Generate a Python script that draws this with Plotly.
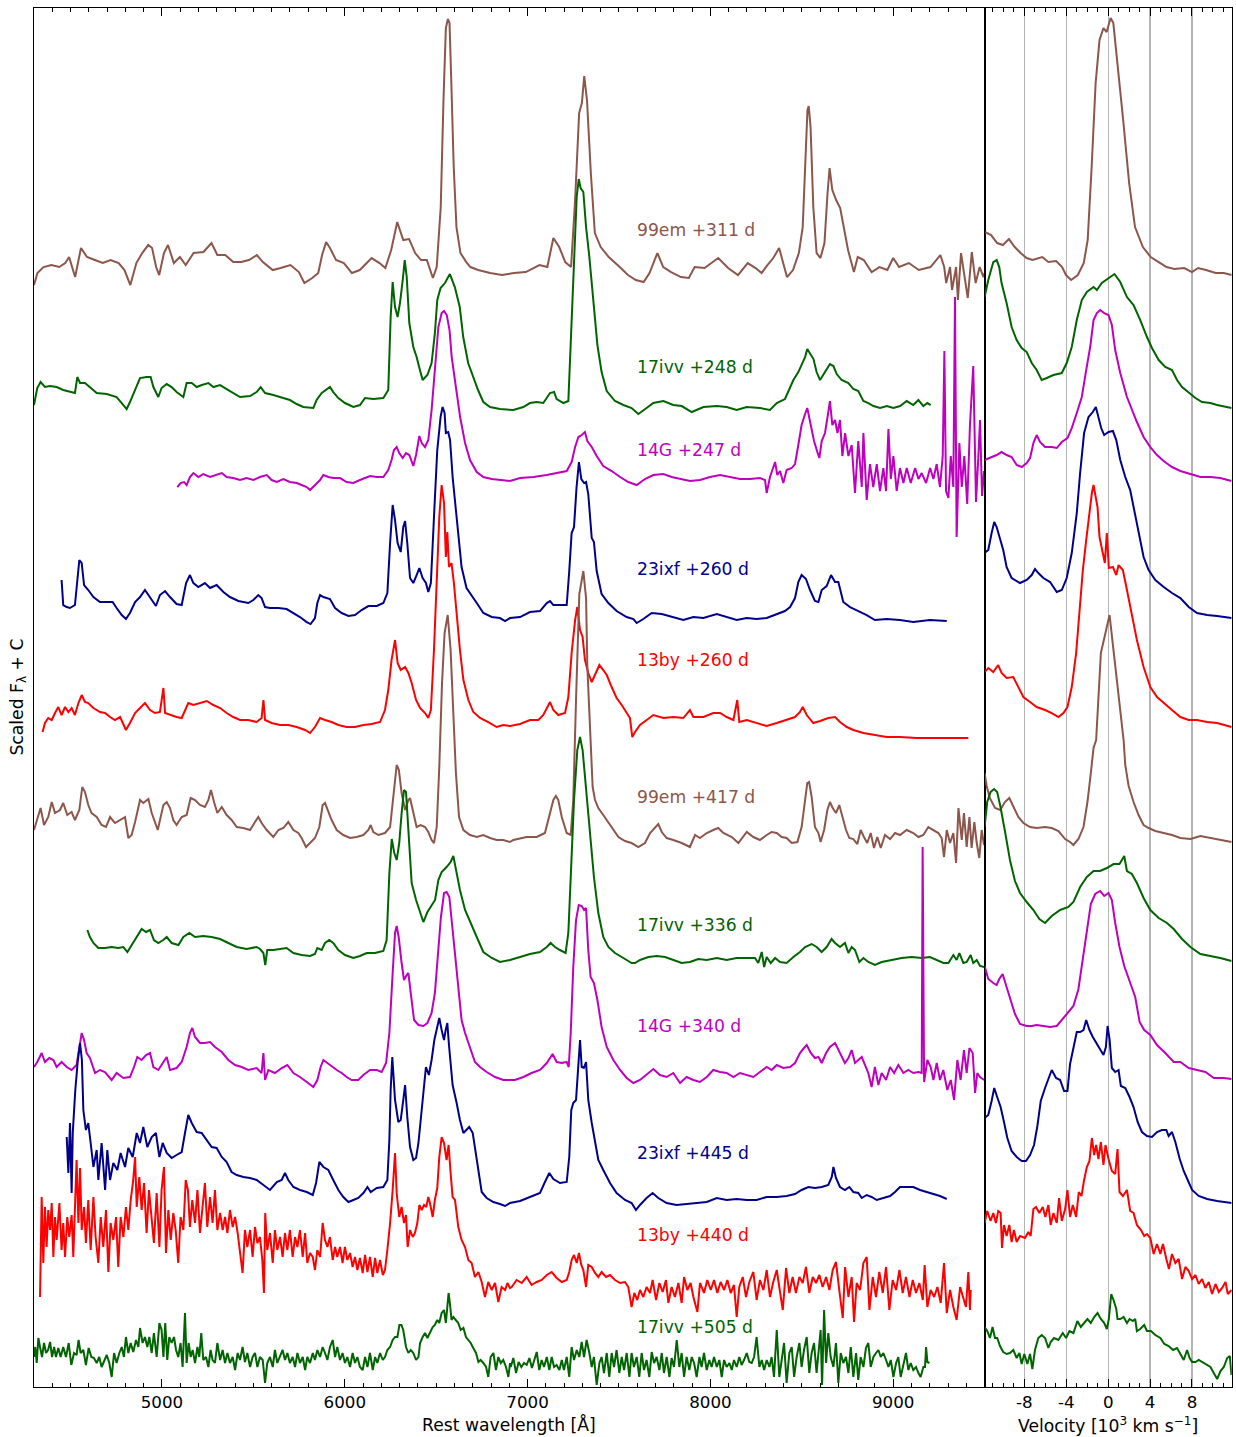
import plotly.graph_objects as go

# ---------------- data: left panel (rest wavelength [A], scaled flux F) ----------------
sp_99em_311 = [(4300,-15),(4319,-3),(4352,3),(4395,5),(4438,3),(4471,7),(4492,13),(4525,-7),(4557,22),(4590,13),
 (4633,10),(4676,7),(4719,10),(4763,7),(4795,0),(4827,-15),(4860,7),(4892,17),(4925,25),(4946,22),
 (4968,3),(4985,-5),(5011,17),(5033,25),(5065,7),(5098,13),(5130,5),(5173,17),(5227,18),(5271,27),
 (5303,15),(5346,15),(5390,8),(5433,8),(5476,10),(5519,15),(5552,8),(5606,0),(5649,2),(5703,5),
 (5749,-2),(5779,-13),(5822,-8),(5855,-3),(5876,15),(5898,28),(5919,22),(5952,10),(5995,7),(6039,-3),
 (6082,0),(6147,12),(6190,7),(6222,2),(6254,20),(6287,48),(6320,30),(6352,31),(6385,17),(6417,10),
 (6449,10),(6482,-8),(6503,3),(6525,63),(6540,170),(6553,242),(6564,251),(6573,247),(6583,187),(6596,103),
 (6611,43),(6633,17),(6665,8),(6687,3),(6730,0),(6795,-3),(6860,-5),(6925,-3),(6990,-2),(7065,5),
 (7108,3),(7141,32),(7173,23),(7206,8),(7238,3),(7260,70),(7282,157),(7297,167),(7310,194),(7325,170),
 (7346,97),(7368,37),(7400,23),(7444,13),(7504,3),(7549,-5),(7592,-10),(7635,-12),(7667,-3),(7710,17),
 (7742,3),(7785,-2),(7839,-7),(7882,-8),(7914,3),(7968,2),(8043,12),(8097,2),(8151,-5),(8204,7),
 (8247,2),(8280,-3),(8312,5),(8344,12),(8376,22),(8398,7),(8419,-7),(8452,0),(8484,17),(8505,43),
 (8520,103),(8531,160),(8538,164),(8548,143),(8563,63),(8581,17),(8602,12),(8624,27),(8641,77),(8652,102),
 (8667,80),(8688,70),(8710,62),(8731,40),(8753,20),(8785,-2),(8806,13),(8839,10),(8882,-2),(8925,3),
 (8968,0),(9000,12),(9032,3),(9086,7),(9140,0),(9204,3),(9258,15),(9279,3),(9290,-13),(9311,3),
 (9322,-20),(9344,3),(9354,-30),(9371,17),(9393,-13),(9408,-28),(9430,18),(9451,-13),(9473,3),(9494,-7),(9500,-3)]

sp_17ivv_248 = [(4300,0),(4318,17),(4336,23),(4360,18),(4388,19),(4424,18),(4460,15),(4497,13),(4524,12),(4537,28),
 (4552,22),(4579,22),(4606,18),(4643,12),(4698,11),(4752,8),(4780,2),(4807,-4),(4825,3),(4853,15),
 (4880,27),(4916,28),(4938,28),(4953,18),(4980,8),(4998,17),(5026,21),(5053,18),(5080,13),(5117,8),
 (5135,22),(5163,22),(5190,18),(5218,20),(5254,22),(5281,18),(5318,20),(5354,16),(5390,12),(5427,8),
 (5482,9),(5518,13),(5540,18),(5564,12),(5609,10),(5664,7),(5700,5),(5737,1),(5773,-2),(5828,-3),
 (5846,5),(5874,12),(5901,16),(5919,18),(5937,13),(5965,7),(6001,2),(6047,-2),(6083,0),(6111,7),
 (6156,6),(6211,7),(6238,15),(6251,88),(6262,123),(6275,98),(6289,88),(6302,102),(6317,125),(6328,145),
 (6339,128),(6353,82),(6375,58),(6393,48),(6411,35),(6426,25),(6452,30),(6475,42),(6493,72),(6506,105),
 (6524,117),(6548,122),(6575,131),(6602,118),(6629,98),(6648,68),(6675,42),(6702,28),(6729,15),(6758,3),
 (6795,-2),(6849,-4),(6904,-5),(6922,-5),(6977,-2),(7013,2),(7050,3),(7086,2),(7123,12),(7145,13),
 (7159,6),(7196,2),(7223,4),(7236,64),(7250,140),(7269,209),(7280,226),(7290,217),(7305,213),(7320,178),
 (7338,148),(7360,106),(7382,60),(7405,33),(7433,14),(7478,4),(7524,0),(7569,-3),(7606,-9),(7651,-3),
 (7688,2),(7743,4),(7797,0),(7843,-1),(7898,-7),(7962,-2),(8035,-1),(8089,-2),(8144,-5),(8199,-2),
 (8272,-3),(8326,-5),(8363,2),(8408,6),(8436,18),(8454,25),(8481,33),(8499,41),(8518,48),(8530,56),
 (8545,52),(8564,46),(8581,33),(8600,25),(8627,33),(8654,41),(8673,39),(8691,31),(8718,25),(8755,22),
 (8782,16),(8809,14),(8837,4),(8864,2),(8892,-1),(8928,-3),(8965,-1),(9001,-3),(9038,-1),(9074,4),
 (9110,0),(9138,5),(9165,-1),(9187,2),(9205,0)]

sp_14G_247 = [(5084,-9),(5102,-5),(5121,-4),(5135,-7),(5153,1),(5172,5),(5199,1),(5226,4),(5263,1),(5299,3),
 (5327,5),(5354,1),(5390,0),(5427,-2),(5463,0),(5500,-2),(5536,1),(5573,3),(5600,-2),(5628,-4),
 (5664,-1),(5700,-4),(5737,-5),(5764,-7),(5792,-9),(5810,-12),(5837,-7),(5865,-2),(5883,3),(5910,1),
 (5937,0),(5974,0),(6010,-4),(6047,-5),(6083,-2),(6111,0),(6138,2),(6175,1),(6211,1),(6238,8),
 (6256,18),(6269,28),(6284,31),(6298,25),(6317,20),(6335,25),(6353,23),(6375,12),(6390,23),(6408,42),
 (6421,35),(6439,31),(6457,38),(6475,68),(6493,111),(6512,151),(6530,165),(6543,167),(6558,163),(6573,148),
 (6585,121),(6604,95),(6631,61),(6658,35),(6685,18),(6722,6),(6758,1),(6804,-1),(6849,-2),(6904,-3),
 (6959,0),(7032,1),(7105,3),(7159,5),(7214,7),(7241,16),(7260,31),(7278,41),(7296,43),(7314,46),
 (7327,37),(7351,31),(7378,22),(7414,12),(7460,7),(7506,1),(7551,-4),(7597,-7),(7642,-1),(7688,3),
 (7743,4),(7788,1),(7843,-1),(7889,-3),(7943,-2),(7998,1),(8053,3),(8107,1),(8162,-1),(8217,-1),
 (8271,0),(8299,-2),(8308,-15),(8326,1),(8354,16),(8366,3),(8381,7),(8399,-5),(8417,8),(8445,10),
 (8463,14),(8481,33),(8499,53),(8518,64),(8530,70),(8549,53),(8567,37),(8585,26),(8596,20),(8609,37),
 (8627,45),(8640,60),(8654,77),(8667,53),(8682,58),(8695,45),(8709,58),(8722,22),(8737,45),(8755,22),
 (8773,33),(8791,-15),(8809,37),(8828,-9),(8837,45),(8855,-22),(8873,14),(8891,-9),(8910,14),(8928,-13),
 (8946,10),(8961,-13),(8974,49),(8987,-1),(9001,22),(9019,-13),(9037,10),(9056,-5),(9074,10),(9096,-5),
 (9120,10),(9138,-1),(9156,5),(9180,-5),(9202,10),(9220,-1),(9238,14),(9256,-9),(9271,22),(9280,127),
 (9289,-13),(9302,-20),(9315,22),(9329,-9),(9338,181),(9347,-59),(9362,35),(9375,-9),(9389,22),(9405,-26),
 (9420,53),(9438,112),(9453,-24),(9466,22),(9475,58),(9486,-18),(9497,7)]

sp_23ixf_260 = [(4451,25),(4460,0),(4479,-2),(4497,-3),(4524,0),(4537,28),(4548,45),(4561,42),(4574,20),(4597,15),
 (4625,8),(4661,3),(4698,3),(4730,3),(4752,-3),(4780,-10),(4803,-14),(4825,-8),(4853,3),(4880,8),
 (4907,15),(4935,8),(4967,-1),(4989,10),(5017,14),(5044,8),(5080,1),(5108,0),(5132,22),(5153,30),
 (5172,22),(5199,18),(5235,22),(5263,17),(5299,20),(5336,13),(5372,8),(5418,4),(5472,2),(5500,5),
 (5527,10),(5545,7),(5564,-2),(5591,-3),(5637,-3),(5682,-4),(5719,-8),(5755,-12),(5792,-17),(5813,-19),
 (5837,-13),(5850,2),(5865,10),(5883,8),(5919,6),(5947,-3),(5983,-8),(6020,-11),(6056,-10),(6092,-5),
 (6129,-1),(6175,-1),(6211,2),(6233,12),(6248,62),(6262,100),(6275,85),(6289,62),(6306,53),(6320,78),
 (6330,84),(6342,62),(6357,27),(6375,22),(6393,30),(6408,37),(6426,27),(6444,22),(6457,13),(6471,22),
 (6488,88),(6506,155),(6524,188),(6535,198),(6546,192),(6553,172),(6566,173),(6576,165),(6590,128),(6612,88),
 (6639,38),(6666,17),(6694,10),(6722,2),(6758,-8),(6804,-12),(6849,-13),(6877,-16),(6904,-13),(6959,-12),
 (7013,-7),(7068,-6),(7105,2),(7123,4),(7141,0),(7177,0),(7214,0),(7228,34),(7241,72),(7254,78),
 (7268,118),(7281,143),(7294,126),(7309,122),(7320,123),(7332,111),(7351,67),(7363,63),(7378,34),(7405,11),
 (7442,2),(7487,-6),(7542,-12),(7579,-14),(7597,-18),(7633,-14),(7679,-8),(7734,-9),(7797,-12),(7852,-15),
 (7907,-12),(7962,-13),(8035,-9),(8089,-12),(8144,-15),(8199,-13),(8253,-14),(8308,-13),(8363,-9),(8408,-6),
 (8436,-2),(8463,7),(8481,23),(8499,30),(8523,26),(8545,15),(8572,4),(8591,3),(8609,15),(8636,19),
 (8660,30),(8682,23),(8700,23),(8727,3),(8764,-2),(8809,-6),(8855,-10),(8900,-15),(8965,-14),(9037,-15),
 (9110,-17),(9201,-15),(9293,-16)]

sp_13by_260 = [(4347,-12),(4360,-3),(4378,2),(4397,0),(4415,7),(4433,13),(4451,5),(4470,13),(4488,8),(4506,12),
 (4524,5),(4543,17),(4561,25),(4579,18),(4597,17),(4625,12),(4661,8),(4689,7),(4716,3),(4743,0),
 (4771,3),(4803,-10),(4825,-3),(4853,7),(4880,12),(4907,17),(4935,10),(4962,7),(4989,8),(5008,32),
 (5017,7),(5044,5),(5080,3),(5108,2),(5126,10),(5144,17),(5172,15),(5208,17),(5245,19),(5281,15),
 (5318,12),(5354,7),(5390,3),(5427,0),(5472,0),(5518,-2),(5545,2),(5555,20),(5564,0),(5600,-3),
 (5646,-5),(5691,-5),(5737,-7),(5783,-10),(5810,-13),(5837,-7),(5865,2),(5892,0),(5928,-2),(5965,-5),
 (6010,-7),(6056,-7),(6102,-5),(6147,-4),(6193,-2),(6220,10),(6238,30),(6256,60),(6275,80),(6289,57),
 (6306,50),(6330,53),(6348,47),(6366,37),(6390,20),(6412,12),(6439,7),(6457,2),(6471,10),(6488,70),
 (6503,137),(6517,203),(6530,235),(6543,217),(6553,163),(6561,188),(6570,153),(6584,157),(6597,137),(6612,103),
 (6630,70),(6649,40),(6676,20),(6703,8),(6740,2),(6785,-2),(6831,-7),(6867,-5),(6904,-6),(6959,-4),
 (7013,0),(7059,0),(7086,5),(7123,18),(7141,10),(7168,5),(7205,7),(7223,23),(7241,67),(7260,100),
 (7272,113),(7287,90),(7301,83),(7314,60),(7332,47),(7351,38),(7369,45),(7393,55),(7414,50),(7433,45),
 (7460,33),(7487,22),(7515,15),(7542,7),(7560,2),(7573,-17),(7588,-12),(7615,-5),(7651,0),(7688,5),
 (7743,2),(7797,3),(7852,2),(7888,10),(7907,3),(7962,3),(8016,7),(8053,7),(8089,3),(8126,0),
 (8147,20),(8158,-2),(8199,0),(8253,-3),(8308,-6),(8363,-3),(8417,0),(8463,3),(8490,8),(8505,13),
 (8527,5),(8563,-3),(8600,-1),(8645,2),(8682,3),(8709,-2),(8746,-7),(8782,-10),(8837,-13),(8892,-15),
 (8964,-17),(9037,-17),(9128,-18),(9220,-18),(9311,-18),(9411,-18)]

sp_99em_417 = [(4300,5),(4318,15),(4336,27),(4355,10),(4378,18),(4397,33),(4415,22),(4442,25),(4460,32),(4482,20),
 (4506,23),(4524,15),(4548,25),(4564,48),(4579,43),(4597,30),(4615,22),(4643,18),(4670,10),(4694,8),
 (4716,18),(4743,12),(4771,15),(4798,18),(4816,-3),(4834,0),(4853,13),(4880,35),(4898,32),(4926,36),
 (4944,22),(4962,13),(4977,5),(4993,18),(5008,30),(5026,33),(5044,27),(5062,15),(5080,10),(5108,18),
 (5135,20),(5157,37),(5181,35),(5208,30),(5235,28),(5254,35),(5268,45),(5285,33),(5303,22),(5327,28),
 (5354,20),(5381,15),(5409,8),(5445,7),(5482,5),(5509,13),(5527,18),(5545,12),(5573,5),(5609,-2),
 (5637,5),(5664,7),(5691,13),(5719,5),(5746,2),(5764,-3),(5788,-12),(5810,-8),(5837,-3),(5861,8),
 (5879,30),(5892,32),(5906,25),(5928,15),(5956,5),(5992,0),(6029,-3),(6065,-2),(6102,0),(6129,5),
 (6142,10),(6156,3),(6184,0),(6220,2),(6248,8),(6269,42),(6284,70),(6296,65),(6311,42),(6330,25),
 (6348,35),(6357,37),(6375,22),(6393,8),(6415,10),(6439,8),(6457,3),(6475,-5),(6488,-8),(6503,8),
 (6517,68),(6532,152),(6546,202),(6563,220),(6579,185),(6594,128),(6608,62),(6625,18),(6649,5),(6685,0),
 (6722,-2),(6758,0),(6795,-3),(6831,-5),(6867,-5),(6904,-7),(6922,-5),(6995,-2),(7050,-2),(7095,2),
 (7123,22),(7141,35),(7155,39),(7168,35),(7187,18),(7214,2),(7236,0),(7250,35),(7265,135),(7283,241),
 (7305,264),(7320,237),(7327,168),(7341,102),(7356,48),(7369,35),(7387,27),(7414,20),(7442,13),(7469,5),
 (7497,-2),(7533,-6),(7569,-8),(7606,-12),(7642,-8),(7670,2),(7697,8),(7715,11),(7734,3),(7761,-3),
 (7797,-5),(7843,-8),(7888,-12),(7916,0),(7943,-3),(7980,2),(8016,5),(8043,7),(8071,2),(8117,-2),
 (8153,-8),(8199,3),(8235,-2),(8271,-5),(8308,0),(8335,3),(8363,2),(8390,-2),(8417,-3),(8445,-8),
 (8476,-7),(8499,8),(8518,35),(8530,52),(8540,53),(8554,38),(8572,8),(8591,2),(8603,-7),(8622,5),
 (8640,25),(8654,33),(8669,27),(8687,22),(8705,30),(8724,18),(8742,5),(8760,-3),(8782,-4),(8804,-9),
 (8822,5),(8840,-2),(8858,-8),(8877,2),(8895,-13),(8913,-2),(8932,-13),(8955,0),(8983,-4),(9010,2),
 (9037,0),(9074,5),(9110,2),(9138,-2),(9165,0),(9192,8),(9220,5),(9247,2),(9265,-3),(9278,-22),
 (9293,5),(9311,-8),(9329,2),(9344,-28),(9357,27),(9375,-5),(9387,22),(9402,-12),(9417,18),(9429,-13),
 (9444,13),(9457,-8),(9471,-23),(9484,5),(9497,-10)]

sp_17ivv_336 = [(4592,25),(4606,18),(4625,12),(4652,7),(4688,7),(4725,8),(4761,7),(4789,8),(4811,3),(4834,10),
 (4862,18),(4889,26),(4913,23),(4935,25),(4956,15),(4980,12),(5007,15),(5026,18),(5053,12),(5090,10),
 (5117,18),(5150,22),(5181,18),(5226,19),(5272,18),(5318,16),(5363,12),(5409,8),(5463,6),(5518,8),
 (5536,6),(5555,2),(5565,-10),(5576,5),(5609,5),(5646,6),(5682,7),(5719,2),(5764,0),(5810,-1),
 (5837,1),(5850,7),(5874,5),(5892,12),(5915,15),(5937,12),(5965,5),(6001,0),(6047,-3),(6083,-1),
 (6120,2),(6165,2),(6211,4),(6229,15),(6244,82),(6257,116),(6271,102),(6284,95),(6298,112),(6311,142),
 (6324,165),(6335,163),(6348,122),(6366,72),(6390,55),(6412,42),(6430,33),(6452,43),(6475,49),(6494,55),
 (6512,75),(6530,83),(6557,88),(6579,93),(6594,99),(6608,85),(6630,65),(6658,45),(6685,33),(6722,18),
 (6758,3),(6804,-3),(6849,-7),(6904,-5),(6959,-2),(7013,1),(7068,3),(7105,8),(7126,12),(7150,8),
 (7177,5),(7208,2),(7223,22),(7236,82),(7254,155),(7272,205),(7287,218),(7301,205),(7316,175),(7332,138),
 (7345,115),(7363,78),(7387,42),(7414,18),(7442,8),(7478,2),(7524,-3),(7569,-8),(7588,-8),(7615,-5),
 (7661,-2),(7706,-1),(7752,-2),(7797,-5),(7843,-8),(7888,-7),(7934,-4),(7980,-5),(8035,-3),(8089,-5),
 (8144,-3),(8199,-3),(8244,-3),(8262,-8),(8281,3),(8294,-12),(8308,-2),(8330,-8),(8354,-3),(8381,-7),
 (8417,-8),(8454,-2),(8490,3),(8518,8),(8554,11),(8581,8),(8609,3),(8636,8),(8663,16),(8682,12),
 (8709,8),(8736,12),(8755,2),(8773,8),(8791,5),(8815,-7),(8837,-3),(8864,-7),(8900,-10),(8937,-7),
 (8992,-5),(9047,-3),(9101,-2),(9156,-3),(9201,-2),(9238,-5),(9275,-8),(9302,-8),(9329,0),(9347,-5),
 (9362,2),(9384,-8),(9402,-7),(9424,0),(9438,-8),(9457,-5),(9475,-11),(9497,-12)]

sp_14G_340 = [(4300,3),(4318,8),(4342,17),(4360,8),(4384,12),(4406,10),(4424,3),(4451,8),(4479,3),(4506,0),
 (4533,5),(4552,30),(4561,37),(4574,30),(4588,17),(4606,12),(4634,-3),(4661,0),(4688,-2),(4725,-10),
 (4752,-3),(4789,-8),(4825,-7),(4847,3),(4865,13),(4889,10),(4913,15),(4935,17),(4953,3),(4980,0),
 (5008,8),(5026,13),(5044,0),(5080,2),(5108,8),(5135,23),(5153,37),(5166,42),(5181,33),(5208,27),
 (5235,27),(5263,28),(5290,23),(5327,18),(5363,10),(5400,5),(5436,3),(5472,0),(5518,2),(5545,-3),
 (5555,17),(5564,-10),(5582,0),(5618,-3),(5655,2),(5686,5),(5719,-3),(5755,-7),(5792,-12),(5828,-17),
 (5850,-10),(5868,3),(5883,10),(5905,7),(5928,3),(5956,0),(5983,-3),(6010,-7),(6038,-10),(6074,-10),
 (6102,-5),(6138,0),(6175,0),(6202,-2),(6226,7),(6244,37),(6262,97),(6275,137),(6284,144),(6295,133),
 (6311,107),(6324,90),(6339,95),(6348,97),(6361,77),(6379,50),(6403,45),(6430,44),(6452,47),(6475,57),
 (6493,77),(6512,120),(6526,153),(6543,177),(6557,178),(6572,173),(6585,150),(6603,117),(6621,80),(6639,50),
 (6658,37),(6685,23),(6712,8),(6740,3),(6776,-2),(6822,-7),(6867,-10),(6904,-10),(6931,-10),(6977,-7),
 (7022,-3),(7068,0),(7105,7),(7137,16),(7159,8),(7187,7),(7214,8),(7225,3),(7236,37),(7250,103),
 (7265,150),(7280,165),(7296,164),(7309,160),(7320,162),(7332,120),(7345,93),(7363,87),(7382,70),(7405,43),
 (7433,23),(7469,10),(7506,0),(7542,-8),(7579,-13),(7615,-10),(7651,-5),(7688,1),(7724,-5),(7761,-7),
 (7797,-3),(7834,-13),(7870,-7),(7907,-10),(7943,-12),(7980,-7),(8016,0),(8053,-2),(8089,-3),(8126,-7),
 (8162,-3),(8199,-5),(8235,-7),(8271,-2),(8308,3),(8335,0),(8363,5),(8399,2),(8436,3),(8463,7),
 (8490,17),(8512,22),(8527,25),(8549,17),(8572,12),(8591,13),(8609,7),(8633,17),(8654,23),(8682,27),
 (8700,20),(8718,13),(8736,7),(8755,12),(8773,20),(8791,7),(8809,10),(8828,13),(8846,5),(8864,-3),
 (8882,-17),(8900,3),(8919,-15),(8937,-3),(8961,-10),(8983,3),(9005,-3),(9028,5),(9056,-3),(9083,0),
 (9110,-3),(9138,-2),(9156,-3),(9161,223),(9169,-12),(9187,10),(9205,3),(9220,-10),(9238,7),(9256,-10),
 (9274,0),(9296,-20),(9315,-10),(9333,-30),(9351,10),(9369,-10),(9387,20),(9402,-3),(9417,22),(9435,17),
 (9448,-23),(9460,-3),(9475,-7),(9497,-10)]

sp_23ixf_445 = [(4479,58),(4488,22),(4497,72),(4506,2),(4512,62),(4519,88),(4526,105),(4540,135),(4552,152),(4562,135),
 (4570,85),(4584,65),(4597,72),(4610,52),(4625,28),(4643,45),(4652,15),(4670,52),(4689,5),(4701,45),
 (4716,15),(4734,32),(4756,25),(4774,42),(4798,28),(4816,47),(4840,38),(4862,62),(4880,52),(4898,68),
 (4920,48),(4944,58),(4967,62),(4986,38),(5004,52),(5026,42),(5053,37),(5080,40),(5108,43),(5126,62),
 (5144,80),(5163,72),(5190,63),(5217,62),(5245,55),(5272,48),(5299,47),(5327,38),(5354,33),(5381,23),
 (5409,20),(5445,18),(5482,17),(5518,15),(5555,10),(5591,5),(5628,13),(5655,15),(5673,22),(5691,15),
 (5719,8),(5755,5),(5792,3),(5825,0),(5843,12),(5861,33),(5883,28),(5910,25),(5937,15),(5965,5),
 (5992,-2),(6020,-7),(6047,-5),(6074,-3),(6102,2),(6124,8),(6142,3),(6175,7),(6211,8),(6233,15),
 (6244,55),(6251,105),(6260,138),(6275,95),(6293,73),(6306,75),(6320,95),(6330,110),(6342,78),(6357,48),
 (6375,35),(6390,37),(6403,52),(6421,85),(6434,105),(6444,128),(6460,120),(6475,135),(6490,155),(6510,170),
 (6517,177),(6530,165),(6543,155),(6552,165),(6561,172),(6570,150),(6579,129),(6590,110),(6612,92),(6630,75),
 (6649,62),(6667,65),(6681,68),(6700,62),(6722,35),(6749,3),(6776,-3),(6813,-7),(6849,-9),(6877,-11),
 (6904,-8),(6959,-6),(7013,-2),(7068,2),(7095,13),(7119,22),(7141,16),(7177,12),(7214,13),(7228,38),
 (7239,85),(7250,92),(7265,95),(7275,120),(7287,155),(7296,128),(7308,127),(7320,133),(7332,95),(7351,72),
 (7369,55),(7387,35),(7414,25),(7451,12),(7487,2),(7533,-5),(7569,-8),(7593,-15),(7615,-10),(7651,-3),
 (7684,2),(7715,-3),(7761,-8),(7815,-10),(7870,-9),(7925,-8),(7980,-7),(8035,-3),(8089,-5),(8144,-4),
 (8199,-5),(8253,-5),(8308,-2),(8363,-2),(8417,-1),(8463,1),(8499,5),(8536,8),(8572,7),(8609,8),
 (8645,10),(8664,18),(8673,28),(8687,17),(8709,8),(8736,5),(8760,8),(8782,3),(8809,2),(8828,-3),
 (8855,0),(8882,-2),(8910,-5),(8946,-3),(8983,-1),(9010,3),(9037,8),(9074,8),(9110,8),(9147,5),
 (9183,3),(9220,1),(9256,-1),(9293,-4)]

sp_13by_440 = [(4333,-37),(4336,10),(4342,63),(4351,-3),(4360,53),(4369,13),(4378,50),(4388,30),(4397,57),(4406,3),
 (4415,43),(4424,20),(4439,57),(4451,10),(4460,37),(4470,3),(4482,43),(4493,23),(4506,45),(4515,3),
 (4526,53),(4533,100),(4543,37),(4552,92),(4561,30),(4574,53),(4584,17),(4597,60),(4610,10),(4625,63),
 (4637,23),(4652,-3),(4665,43),(4679,13),(4694,50),(4707,-12),(4719,37),(4734,20),(4749,43),(4761,-7),
 (4774,43),(4789,23),(4803,53),(4816,30),(4829,60),(4843,80),(4853,103),(4862,53),(4876,83),(4889,50),
 (4902,77),(4916,27),(4929,70),(4944,43),(4956,17),(4971,67),(4986,13),(4998,70),(5011,93),(5022,7),
 (5035,50),(5048,20),(5062,47),(5075,30),(5089,-3),(5102,43),(5117,30),(5130,80),(5142,70),(5153,33),
 (5166,60),(5181,37),(5194,70),(5208,27),(5221,53),(5235,77),(5248,33),(5263,63),(5277,37),(5290,70),
 (5303,30),(5318,47),(5332,30),(5345,43),(5358,27),(5372,50),(5387,33),(5400,43),(5414,27),(5427,10),
 (5441,-13),(5454,30),(5467,13),(5482,30),(5496,3),(5509,33),(5522,17),(5536,23),(5549,0),(5558,-33),
 (5565,47),(5576,10),(5591,27),(5606,-3),(5618,30),(5631,10),(5646,23),(5660,3),(5673,27),(5686,10),
 (5700,30),(5715,3),(5728,23),(5741,13),(5755,30),(5770,3),(5783,27),(5795,-3),(5810,7),(5825,3),
 (5837,-10),(5850,10),(5865,3),(5879,37),(5892,20),(5905,13),(5919,23),(5934,0),(5947,13),(5959,3),
 (5974,13),(5988,-3),(6001,13),(6014,0),(6029,7),(6043,-7),(6056,3),(6069,-10),(6083,2),(6098,-13),
 (6111,5),(6124,-12),(6138,3),(6153,-17),(6166,2),(6178,-13),(6193,0),(6208,-15),(6220,-10),(6233,10),
 (6248,37),(6262,70),(6275,107),(6284,67),(6298,43),(6311,53),(6324,37),(6335,45),(6344,13),(6357,30),
 (6372,23),(6384,27),(6397,37),(6408,55),(6421,50),(6434,55),(6446,53),(6457,63),(6466,57),(6481,43),
 (6493,60),(6506,72),(6517,103),(6530,123),(6543,117),(6557,100),(6568,115),(6579,87),(6590,63),(6603,60),
 (6621,33),(6639,20),(6658,13),(6676,0),(6694,-3),(6712,-17),(6731,-12),(6749,-22),(6767,-37),(6785,-22),
 (6804,-30),(6822,-23),(6840,-42),(6858,-27),(6877,-30),(6890,-23),(6904,-28),(6913,-27),(6940,-20),(6968,-23),
 (6995,-17),(7022,-25),(7050,-22),(7077,-20),(7105,-15),(7132,-12),(7159,-18),(7187,-22),(7214,-20),(7228,-12),
 (7241,0),(7254,5),(7269,-3),(7281,7),(7294,-5),(7305,-10),(7320,-27),(7332,-5),(7351,-7),(7369,-13),
 (7387,-17),(7405,-12),(7429,-17),(7451,-15),(7478,-20),(7506,-23),(7533,-22),(7551,-27),(7569,-47),(7584,-33),
 (7600,-40),(7615,-30),(7633,-37),(7651,-27),(7670,-33),(7684,-20),(7703,-40),(7721,-23),(7739,-32),(7757,-20),
 (7770,-43),(7788,-27),(7806,-37),(7825,-23),(7843,-43),(7856,-17),(7874,-30),(7892,-23),(7907,-37),(7929,-52),
 (7943,-23),(7965,-33),(7983,-20),(8002,-30),(8020,-20),(8038,-33),(8056,-22),(8075,-30),(8093,-20),(8111,-33),
 (8129,-25),(8144,-57),(8158,-27),(8177,-17),(8195,-37),(8213,-22),(8235,-12),(8253,-40),(8271,-20),(8290,-30),
 (8308,-10),(8326,-37),(8344,-22),(8363,-10),(8381,-33),(8396,-50),(8414,-8),(8432,-33),(8450,-17),(8468,-33),
 (8487,-17),(8505,-23),(8523,-7),(8541,-33),(8560,-17),(8578,-23),(8596,-15),(8614,-27),(8633,-17),(8651,-30),
 (8669,-10),(8687,-2),(8705,-30),(8724,-58),(8737,-7),(8755,-37),(8773,-17),(8786,-62),(8800,-23),(8819,-30),
 (8837,-3),(8855,3),(8870,-50),(8888,-17),(8906,-37),(8924,-12),(8943,-33),(8961,-7),(8979,-50),(8997,-20),
 (9016,-30),(9034,-10),(9052,-33),(9070,-17),(9089,-37),(9107,-20),(9125,-33),(9143,-23),(9162,-40),(9172,-5),
 (9187,-47),(9205,-30),(9224,-37),(9242,-27),(9260,-43),(9278,-3),(9293,-53),(9311,-30),(9329,-47),(9347,-60),
 (9366,-27),(9384,-37),(9398,-47),(9411,-12),(9420,-50),(9424,-30)]

sp_17ivv_505 = [(4300,1),(4307,11),(4315,-5),(4324,20),(4333,11),(4344,1),(4355,15),(4366,5),(4377,8),(4388,16),
 (4399,1),(4410,11),(4420,1),(4433,10),(4446,1),(4460,11),(4475,1),(4490,15),(4504,-7),(4519,5),
 (4533,3),(4544,18),(4555,5),(4570,8),(4584,-7),(4599,10),(4614,1),(4628,0),(4643,-5),(4657,1),
 (4670,-9),(4683,-4),(4698,3),(4712,-5),(4725,-19),(4738,5),(4752,-5),(4767,5),(4780,11),(4792,1),
 (4803,21),(4816,5),(4829,15),(4843,6),(4858,18),(4871,11),(4880,30),(4894,15),(4907,21),(4920,11),
 (4931,21),(4944,5),(4956,25),(4971,1),(4986,35),(4998,28),(5008,1),(5018,35),(5029,-2),(5040,21),
 (5053,15),(5066,21),(5077,8),(5089,1),(5102,15),(5113,-9),(5126,45),(5135,-5),(5146,15),(5157,1),
 (5168,8),(5181,-5),(5194,11),(5204,1),(5215,25),(5226,-2),(5241,1),(5254,-9),(5266,8),(5277,-2),
 (5290,-5),(5303,15),(5318,-2),(5332,8),(5345,-5),(5358,5),(5372,-5),(5387,1),(5400,-12),(5414,5),
 (5427,-2),(5441,11),(5454,-4),(5467,5),(5482,-9),(5496,1),(5509,5),(5522,-9),(5536,1),(5551,-2),
 (5564,-25),(5576,-5),(5591,1),(5606,-9),(5618,8),(5631,-5),(5646,1),(5660,8),(5673,-2),(5686,5),
 (5700,-5),(5715,1),(5728,-9),(5741,5),(5755,-5),(5770,1),(5783,-12),(5795,1),(5810,-5),(5825,5),
 (5837,-2),(5850,8),(5865,1),(5879,11),(5892,5),(5905,-2),(5919,11),(5934,18),(5947,1),(5959,11),
 (5974,-2),(5988,5),(6001,-5),(6014,1),(6029,-9),(6043,5),(6056,-5),(6069,1),(6083,-9),(6098,-12),
 (6111,1),(6124,-9),(6138,5),(6153,-12),(6166,1),(6178,-5),(6193,5),(6208,-2),(6220,1),(6233,8),
 (6248,11),(6262,18),(6275,21),(6288,21),(6299,33),(6310,33),(6320,28),(6335,11),(6348,5),(6361,8),
 (6375,5),(6390,-2),(6403,1),(6412,15),(6426,21),(6439,25),(6452,20),(6466,25),(6481,31),(6493,33),
 (6506,38),(6517,35),(6530,45),(6543,48),(6553,35),(6561,51),(6568,65),(6575,55),(6584,38),(6594,41),
 (6608,38),(6621,35),(6634,28),(6649,30),(6663,21),(6676,18),(6689,15),(6703,10),(6718,5),(6731,-4),
 (6743,-2),(6758,-5),(6773,-9),(6785,-19),(6798,1),(6813,5),(6827,-12),(6840,1),(6853,-5),(6867,-2),
 (6882,-9),(6895,-19),(6904,-5),(6908,-9),(6922,0),(6937,-15),(6951,-4),(6966,-9),(6981,-5),(6995,-7),
 (7010,0),(7024,-10),(7039,-2),(7050,6),(7064,-12),(7077,-2),(7090,-9),(7105,1),(7119,-12),(7132,1),
 (7145,-9),(7159,-7),(7174,-12),(7187,-2),(7199,-12),(7214,1),(7228,-19),(7241,11),(7254,-2),(7269,8),
 (7283,1),(7296,16),(7309,1),(7323,18),(7338,5),(7351,-9),(7363,1),(7378,-27),(7393,-5),(7405,1),
 (7418,-15),(7433,5),(7447,-19),(7460,5),(7473,-9),(7487,8),(7502,-15),(7515,1),(7528,-12),(7542,5),
 (7557,-19),(7569,5),(7582,-9),(7597,1),(7611,-19),(7624,5),(7637,-12),(7651,-2),(7666,-19),(7679,6),
 (7692,-5),(7706,1),(7721,-12),(7734,5),(7746,-15),(7761,1),(7776,-19),(7788,0),(7801,-9),(7816,18),
 (7830,-9),(7843,5),(7856,-19),(7870,1),(7885,-12),(7898,1),(7911,-5),(7925,-19),(7940,1),(7952,-9),
 (7965,5),(7980,-12),(7994,-2),(8007,-9),(8020,1),(8035,-9),(8049,-2),(8062,-19),(8075,-2),(8089,-9),
 (8104,-5),(8117,-12),(8129,-2),(8144,-9),(8158,1),(8171,-7),(8184,-2),(8199,5),(8213,-4),(8226,-5),
 (8239,1),(8253,21),(8268,-9),(8281,-2),(8294,-12),(8308,-2),(8323,-9),(8335,1),(8348,-19),(8363,28),
 (8377,-19),(8390,1),(8403,15),(8417,-25),(8432,5),(8445,11),(8458,-19),(8472,1),(8487,15),(8499,-9),
 (8512,8),(8527,21),(8541,-15),(8554,5),(8567,15),(8581,-15),(8591,8),(8603,28),(8611,-27),(8622,48),
 (8633,-5),(8645,25),(8658,1),(8673,-9),(8687,15),(8700,-25),(8713,5),(8727,-5),(8742,1),(8755,-15),
 (8768,11),(8782,-19),(8797,5),(8809,-22),(8822,1),(8837,-9),(8851,10),(8864,15),(8877,-9),(8892,1),
 (8906,5),(8919,8),(8932,1),(8946,5),(8961,-2),(8974,-9),(8987,-2),(9001,-19),(9016,-5),(9028,1),
 (9041,-19),(9056,-5),(9070,5),(9083,-12),(9096,-5),(9110,-12),(9125,-9),(9138,-15),(9150,-19),(9165,-9),
 (9174,-9),(9180,11),(9187,-4),(9198,-5)]

# ---------------- data: right panel (velocity [10^3 km/s], scaled flux F) ----------------
vp_99em_311 = [(-11.74,38),(-11.18,35),(-10.6,27),(-10.05,25),(-9.48,31),(-8.92,23),(-8.36,17),(-7.79,12),(-7.23,10),
 (-6.29,13),(-5.72,8),(-4.97,9),(-4.4,3),(-4.03,-5),(-3.54,-10),(-2.9,-5),(-2.33,7),(-1.96,30),(-1.58,103),
 (-1.2,187),(-0.83,230),(-0.45,242),(-0.15,238),(0.23,252),(0.49,247),(0.87,210),(1.43,150),(2.0,87),(2.56,43),
 (3.31,23),(4.06,13),(4.82,8),(5.57,3),(6.32,1),(7.26,2),(8.0,-2),(8.58,2),(9.33,0),(10.27,-3),(11.03,-3),(11.78,-5)]

vp_17ivv_248 = [(-11.8,108),(-11.45,125),(-10.97,143),(-10.65,145),(-10.4,138),(-10.18,122),(-9.7,102),(-9.22,78),
 (-8.74,65),(-8.26,57),(-7.78,53),(-7.3,42),(-6.83,35),(-6.35,25),(-5.87,27),(-5.23,30),(-4.43,32),(-3.96,42),
 (-3.48,58),(-3.0,85),(-2.52,105),(-2.04,113),(-1.4,118),(-1.08,115),(-0.61,122),(0.03,127),(0.6,131),(1.15,123),
 (1.79,108),(2.42,100),(3.06,85),(3.7,68),(4.18,57),(4.82,45),(5.45,38),(6.09,35),(6.57,25),(7.05,18),
 (7.69,12),(8.33,7),(8.96,3),(9.76,2),(10.4,0),(11.2,-2),(11.77,-3)]

vp_14G_247 = [(-11.8,18),(-11.29,20),(-10.65,23),(-10.18,26),(-9.7,23),(-9.22,21),(-8.74,13),(-8.26,11),(-7.78,15),
 (-7.46,20),(-7.14,35),(-6.83,43),(-6.51,36),(-6.03,31),(-5.39,31),(-4.91,30),(-4.43,36),(-3.89,40),(-3.48,50),
 (-3.0,65),(-2.52,81),(-2.1,108),(-1.72,131),(-1.4,158),(-1.08,165),(-0.77,168),(-0.38,165),(0.03,163),(0.35,153),
 (0.67,128),(1.15,105),(1.79,81),(2.26,68),(2.74,56),(3.38,41),(4.02,31),(4.66,23),(5.29,17),(6.09,11),
 (6.89,7),(7.85,4),(8.8,1),(9.76,1),(10.7,0),(11.77,-3)]

vp_23ixf_260 = [(-11.8,52),(-11.45,55),(-11.13,72),(-10.88,83),(-10.65,78),(-10.33,65),(-10.02,55),(-9.7,38),(-9.22,27),
 (-8.42,22),(-7.78,25),(-7.3,30),(-6.99,36),(-6.67,32),(-6.19,27),(-5.55,23),(-4.91,13),(-4.43,15),(-3.96,27),
 (-3.48,52),(-3.0,92),(-2.68,132),(-2.3,172),(-1.88,188),(-1.47,193),(-1.18,198),(-0.93,188),(-0.67,177),(-0.38,170),
 (0.03,173),(0.45,174),(0.77,165),(1.15,145),(1.63,128),(2.1,115),(2.49,95),(2.9,72),(3.38,48),(3.86,35),
 (4.5,25),(5.3,18),(6.09,12),(6.89,7),(7.69,-2),(8.48,-8),(9.44,-10),(10.4,-11),(11.77,-13)]

vp_13by_260 = [(-11.8,48),(-11.45,52),(-10.97,48),(-10.5,55),(-10.18,47),(-9.7,42),(-9.06,43),(-8.58,33),(-8.1,23),
 (-7.46,18),(-6.83,13),(-6.03,10),(-5.39,7),(-4.75,3),(-4.27,7),(-3.89,13),(-3.48,33),(-3.06,67),(-2.74,107),
 (-2.42,150),(-2.1,180),(-1.79,210),(-1.56,227),(-1.4,235),(-1.18,223),(-1.02,213),(-0.83,183),(-0.51,167),(-0.32,157),
 (-0.13,187),(0.06,152),(0.45,153),(0.77,145),(0.99,155),(1.4,150),(1.79,130),(2.26,107),(2.74,80),(3.38,53),
 (4.02,33),(4.66,23),(5.29,17),(6.09,10),(6.89,3),(7.69,0),(8.48,0),(9.44,-2),(10.4,-3),(11.77,-7)]

vp_99em_417 = [(-11.8,62),(-11.6,49),(-11.3,37),(-10.8,27),(-10.3,25),(-9.86,33),(-9.44,37),(-9.06,29),(-8.58,18),
 (-8.1,12),(-7.46,8),(-6.83,7),(-6.03,8),(-5.39,7),(-4.75,4),(-4.11,-4),(-3.64,-7),(-3.32,-10),(-2.84,-4),
 (-2.36,8),(-1.98,33),(-1.66,62),(-1.4,87),(-1.15,95),(-0.7,182),(0.13,220),(0.8,157),(1.47,95),(1.63,70),
 (1.95,49),(2.42,33),(2.9,20),(3.38,10),(3.86,7),(4.5,4),(5.3,2),(6.09,0),(6.89,-3),(7.85,-4),
 (8.8,-1),(9.76,-3),(10.7,-5),(11.77,-7)]

vp_17ivv_336 = [(-11.8,128),(-11.55,153),(-11.23,163),(-10.9,166),(-10.6,163),(-10.3,149),(-9.86,124),(-9.38,95),
 (-8.9,74),(-8.42,62),(-7.78,53),(-7.14,45),(-6.57,36),(-6.03,32),(-5.39,39),(-4.59,45),(-3.8,48),(-3.32,53),
 (-2.68,68),(-2.04,78),(-1.4,84),(-0.77,84),(-0.13,87),(0.51,91),(1.08,91),(1.31,95),(1.53,99),(1.79,84),
 (2.26,81),(2.74,72),(3.38,57),(4.02,45),(4.82,37),(5.61,32),(6.25,26),(7.05,16),(7.85,8),(8.8,1),
 (9.76,-1),(10.7,-3),(11.77,-6)]

vp_14G_340 = [(-11.8,104),(-11.45,91),(-10.97,87),(-10.65,85),(-10.4,91),(-10.08,96),(-9.76,85),(-9.38,71),(-8.9,56),
 (-8.42,46),(-7.78,44),(-7.3,44),(-6.83,45),(-6.19,44),(-5.55,43),(-4.91,44),(-4.43,50),(-3.89,56),(-3.32,64),
 (-2.84,81),(-2.42,110),(-2.04,139),(-1.66,166),(-1.24,176),(-0.77,179),(-0.38,174),(0.03,177),(0.35,170),(0.67,147),
 (1.08,123),(1.53,104),(2.04,89),(2.58,73),(3.0,48),(3.44,40),(4.02,35),(4.66,25),(5.45,17),(6.25,8),
 (6.89,8),(7.69,2),(8.48,0),(9.28,-2),(10.08,-8),(11.04,-8),(11.77,-9)]

vp_23ixf_445 = [(-11.8,77),(-11.45,80),(-11.13,94),(-10.88,107),(-10.6,98),(-10.27,88),(-9.95,73),(-9.63,57),(-9.22,44),
 (-8.74,38),(-8.26,34),(-7.85,34),(-7.46,40),(-7.08,50),(-6.76,69),(-6.44,94),(-6.03,107),(-5.71,117),(-5.39,125),
 (-4.98,117),(-4.59,115),(-4.21,104),(-3.89,104),(-3.64,131),(-3.32,148),(-3.0,163),(-2.68,163),(-2.36,165),(-2.1,175),
 (-1.79,165),(-1.47,158),(-1.15,152),(-0.83,146),(-0.45,140),(-0.22,148),(-0.06,169),(0.13,156),(0.35,127),(0.67,123),
 (0.99,125),(1.21,109),(1.63,107),(2.04,98),(2.42,88),(2.81,73),(3.22,63),(3.7,59),(4.18,58),(4.66,63),
 (5.14,65),(5.55,65),(5.77,59),(6.09,63),(6.41,53),(6.83,36),(7.21,24),(7.59,15),(8.01,5),(8.64,-1),
 (9.44,-4),(10.4,-6),(11.77,-8)]

vp_13by_440 = [(-11.8,37),(-11.55,49),(-11.23,39),(-10.97,47),(-10.72,37),(-10.5,49),(-10.27,47),(-10.14,12),(-9.95,35),
 (-9.7,24),(-9.44,35),(-9.22,18),(-9.0,30),(-8.74,18),(-8.42,24),(-7.94,22),(-7.62,28),(-7.4,24),(-7.14,51),
 (-6.89,53),(-6.57,47),(-6.25,53),(-6.0,43),(-5.71,55),(-5.49,35),(-5.23,47),(-4.91,37),(-4.69,62),(-4.43,39),
 (-4.11,51),(-3.89,70),(-3.64,43),(-3.38,55),(-3.06,43),(-2.81,68),(-2.55,64),(-2.3,80),(-2.04,93),(-1.79,99),
 (-1.56,122),(-1.34,105),(-1.15,115),(-0.93,101),(-0.7,118),(-0.45,95),(-0.26,115),(0.03,101),(0.35,89),(0.67,86),
 (0.89,111),(1.08,68),(1.4,64),(1.79,70),(2.1,49),(2.42,47),(2.74,35),(3.13,30),(3.44,24),(3.7,26),
 (4.02,22),(4.34,6),(4.66,16),(4.98,6),(5.23,16),(5.55,1),(5.8,-9),(6.09,6),(6.41,-3),(6.73,1),
 (7.05,-19),(7.37,-7),(7.69,-11),(8.01,-19),(8.33,-15),(8.64,-24),(8.96,-19),(9.28,-28),(9.6,-22),(9.92,-34),
 (10.24,-24),(10.56,-32),(10.88,-28),(11.2,-22),(11.42,-34),(11.77,-30)]

vp_17ivv_505 = [(-11.8,31),(-11.55,27),(-11.29,20),(-11.04,31),(-10.81,20),(-10.59,20),(-10.33,12),(-10.02,6),(-9.7,4),
 (-9.38,5),(-9.06,8),(-8.74,0),(-8.48,5),(-8.26,-6),(-8.01,4),(-7.72,-6),(-7.46,4),(-7.24,-11),(-6.99,8),
 (-6.67,20),(-6.35,23),(-6.03,20),(-5.71,10),(-5.49,16),(-5.17,20),(-4.75,18),(-4.34,25),(-4.02,20),(-3.7,27),
 (-3.32,25),(-2.94,37),(-2.62,31),(-2.3,35),(-1.98,39),(-1.66,35),(-1.34,41),(-1.02,45),(-0.7,39),(-0.38,35),
 (-0.13,29),(0.06,39),(0.29,64),(0.51,58),(0.77,49),(0.89,39),(1.15,39),(1.47,41),(1.79,35),(2.04,39),
 (2.36,37),(2.58,39),(2.74,27),(3.06,29),(3.44,33),(3.7,27),(4.08,27),(4.5,23),(4.98,20),(5.36,14),
 (5.77,12),(6.19,8),(6.57,10),(6.89,4),(7.21,-2),(7.53,8),(7.78,0),(8.01,-4),(8.33,-4),(8.64,-2),
 (8.96,-4),(9.44,-7),(9.76,-9),(10.08,-15),(10.4,-21),(10.72,-13),(11.04,-9),(11.36,0),(11.61,2),(11.77,-17)]

labels = ["99em +311 d", "17ivv +248 d", "14G +247 d", "23ixf +260 d", "13by +260 d", "99em +417 d",
          "17ivv +336 d", "14G +340 d", "23ixf +445 d", "13by +440 d", "17ivv +505 d"]
offsets = [1117, 982, 909, 782, 667, 552, 432, 317, 192, 127, 29]          # the "+ C"
label_dy = [40, 38, 28, 36, 60, 38, 30, 44, 42, 25, 31]
BROWN, GREEN, MAG, NAVY, RED = "#8c564b", "#006400", "#bf00bf", "#00008b", "#ff0000"
colors = [BROWN, GREEN, MAG, NAVY, RED, BROWN, GREEN, MAG, NAVY, RED, GREEN]
spectra = [sp_99em_311, sp_17ivv_248, sp_14G_247, sp_23ixf_260, sp_13by_260, sp_99em_417,
           sp_17ivv_336, sp_14G_340, sp_23ixf_445, sp_13by_440, sp_17ivv_505]
profiles = [vp_99em_311, vp_17ivv_248, vp_14G_247, vp_23ixf_260, vp_13by_260, vp_99em_417,
            vp_17ivv_336, vp_14G_340, vp_23ixf_445, vp_13by_440, vp_17ivv_505]
label_wl = 7590
wl_ticks = [5000, 6000, 7000, 8000, 9000]
v_ticks = [-8, -4, 0, 4, 8]
v_ticktext = ["-8", "-4", "0", "4", "8"]

FONT = "DejaVu Sans"
FS = 16.7     # tick labels
FL = 17.2     # annotations / axis titles
LW = 2.0

fig = go.Figure()
for sp, vp, c, col, lab, dy in zip(spectra, profiles, offsets, colors, labels, label_dy):
    fig.add_trace(go.Scatter(x=[p[0] for p in sp], y=[c + p[1] for p in sp], mode="lines",
                             line=dict(color=col, width=LW), xaxis="x", yaxis="y", hoverinfo="skip"))
    fig.add_trace(go.Scatter(x=[p[0] for p in vp], y=[c + p[1] for p in vp], mode="lines",
                             line=dict(color=col, width=LW), xaxis="x2", yaxis="y2", hoverinfo="skip"))
    fig.add_annotation(x=label_wl, y=c + dy, xref="x", yref="y", text=lab, showarrow=False,
                       xanchor="left", yanchor="middle", font=dict(family=FONT, size=FL, color=col))

YDOM = [0.0348, 0.9944]
axis_common = dict(showline=True, linecolor="black", linewidth=1, zeroline=False)
fig.update_layout(
    width=1236, height=1437, margin=dict(l=0, r=0, t=0, b=0),
    paper_bgcolor="white", plot_bgcolor="white", showlegend=False,
    font=dict(family=FONT, size=FS, color="black"),
    xaxis=dict(domain=[0.0275, 0.7966], range=[4300, 9500], anchor="y",
               tickmode="array", tickvals=wl_ticks, ticks="inside", ticklen=8, tickwidth=1,
               tickcolor="black", mirror="allticks", showgrid=False,
               minor=dict(dtick=100, tick0=0, ticks="inside", ticklen=4, tickwidth=1,
                          tickcolor="black", showgrid=False),
               **axis_common),
    xaxis2=dict(domain=[0.7966, 0.9966], range=[-11.8, 11.8], anchor="y2",
                tickmode="array", tickvals=v_ticks, ticktext=v_ticktext, ticks="inside",
                ticklen=8, tickwidth=1, tickcolor="black", mirror="allticks",
                showgrid=True, gridcolor="#b5b5b5", gridwidth=1.2,
                minor=dict(dtick=1, tick0=0, ticks="inside", ticklen=4, tickwidth=1,
                           tickcolor="black", showgrid=False),
                **axis_common),
    yaxis=dict(domain=YDOM, range=[0, 1379], anchor="x", mirror=True, ticks="",
               showticklabels=False, showgrid=False, **axis_common),
    yaxis2=dict(domain=YDOM, range=[0, 1379], anchor="x2", mirror=True, ticks="",
                showticklabels=False, showgrid=False, **axis_common),
)

fig.add_annotation(x=0.4118, y=0.0084, xref="paper", yref="paper", text="Rest wavelength [Å]",
                   showarrow=False, xanchor="center", yanchor="middle", font=dict(family=FONT, size=FL))
fig.add_annotation(x=0.8964, y=0.0084, xref="paper", yref="paper",
                   text="Velocity [10<sup>3</sup> km s<sup>−1</sup>]",
                   showarrow=False, xanchor="center", yanchor="middle", font=dict(family=FONT, size=FL))
fig.add_annotation(x=0.0146, y=0.5146, xref="paper", yref="paper", text="Scaled F<sub>λ</sub> + C",
                   textangle=-90, showarrow=False, xanchor="center", yanchor="middle",
                   font=dict(family=FONT, size=FL))

fig.write_html("out.html",
               config={"displayModeBar": False, "staticPlot": True},
               post_script="document.body.style.margin='0';"
                           "document.documentElement.style.overflow='hidden';"
                           "document.body.style.overflow='hidden';")
